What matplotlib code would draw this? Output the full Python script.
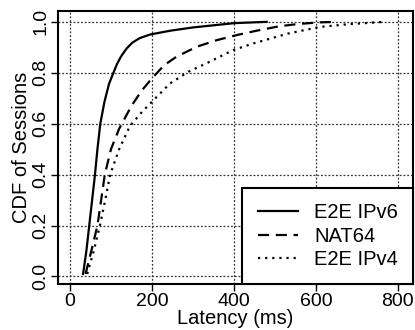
import matplotlib
matplotlib.use("Agg")
from matplotlib import pyplot as plt

plt.rcParams['font.family'] = ['Liberation Sans', 'DejaVu Sans']

## data
ipv6_ms = [32, 40, 47, 54, 61, 67, 74, 84, 95, 106, 115, 125, 138, 152, 170, 195, 244, 300, 402, 480]
ipv6_cdf = [0.01, 0.1, 0.2, 0.3, 0.4, 0.5, 0.6, 0.685, 0.755, 0.8, 0.835, 0.865, 0.895, 0.918, 0.936, 0.95, 0.965, 0.978, 0.995, 1.0]

nat64_ms = [38, 52, 67, 76, 85, 100, 120, 130, 150, 175, 200, 230, 260, 309, 358, 407, 455, 512, 560, 610, 650]
nat64_cdf = [0.01, 0.1, 0.2, 0.3, 0.4, 0.5, 0.58, 0.61, 0.67, 0.73, 0.778, 0.83, 0.863, 0.902, 0.928, 0.948, 0.965, 0.983, 0.992, 0.998, 1.0]

ipv4_ms = [42, 58, 73, 86, 98, 120, 146, 175, 200, 244, 289, 333, 398, 447, 532, 610, 675, 765]
ipv4_cdf = [0.01, 0.1, 0.2, 0.3, 0.4, 0.5, 0.59, 0.645, 0.686, 0.758, 0.804, 0.837, 0.889, 0.915, 0.954, 0.98, 0.99, 1.0]

labels = ['E2E IPv6', 'NAT64', 'E2E IPv4']
xticks = [0, 200, 400, 600, 800]
yticks = [0.0, 0.2, 0.4, 0.6, 0.8, 1.0]

fig = plt.figure(figsize=(4.15, 3.3), dpi=100)
ax = fig.add_axes([0.14, 0.139, 0.855, 0.828])

ax.plot(ipv6_ms, ipv6_cdf, color='black', lw=1.6, linestyle='-', label=labels[0])
ax.plot(nat64_ms, nat64_cdf, color='black', lw=1.6, linestyle=(0, (5, 3)), label=labels[1])
ax.plot(ipv4_ms, ipv4_cdf, color='black', lw=1.6, linestyle=(0, (1, 2.2)), label=labels[2])

ax.set_xlim(-29, 837)
ax.set_ylim(-0.03, 1.043)
ax.set_xticks(xticks)
ax.set_yticks(yticks)
ax.set_xticklabels([str(t) for t in xticks], fontsize=14)
ax.set_yticklabels(['%.1f' % t for t in yticks], fontsize=14, rotation=90, va='center')
ax.tick_params(direction='out', length=5, width=1, pad=1.5)
ax.grid(True, color='#333333', linestyle=(0, (1.5, 1.5)), lw=0.9)
ax.set_axisbelow(True)
for s in ax.spines.values():
	s.set_linewidth(1.5)

ax.set_xlabel('Latency (ms)', fontsize=14.5, labelpad=-1)
ax.set_ylabel('CDF of Sessions', fontsize=14.5, labelpad=1)

leg = ax.legend(loc='lower right', fontsize=14.5, frameon=True, fancybox=False,
	edgecolor='black', borderaxespad=0, handlelength=2.0, handletextpad=0.8,
	borderpad=0.75, labelspacing=0.22)
leg.get_frame().set_linewidth(1.5)
leg.get_frame().set_alpha(1)

plt.savefig('out.png', dpi=100)
